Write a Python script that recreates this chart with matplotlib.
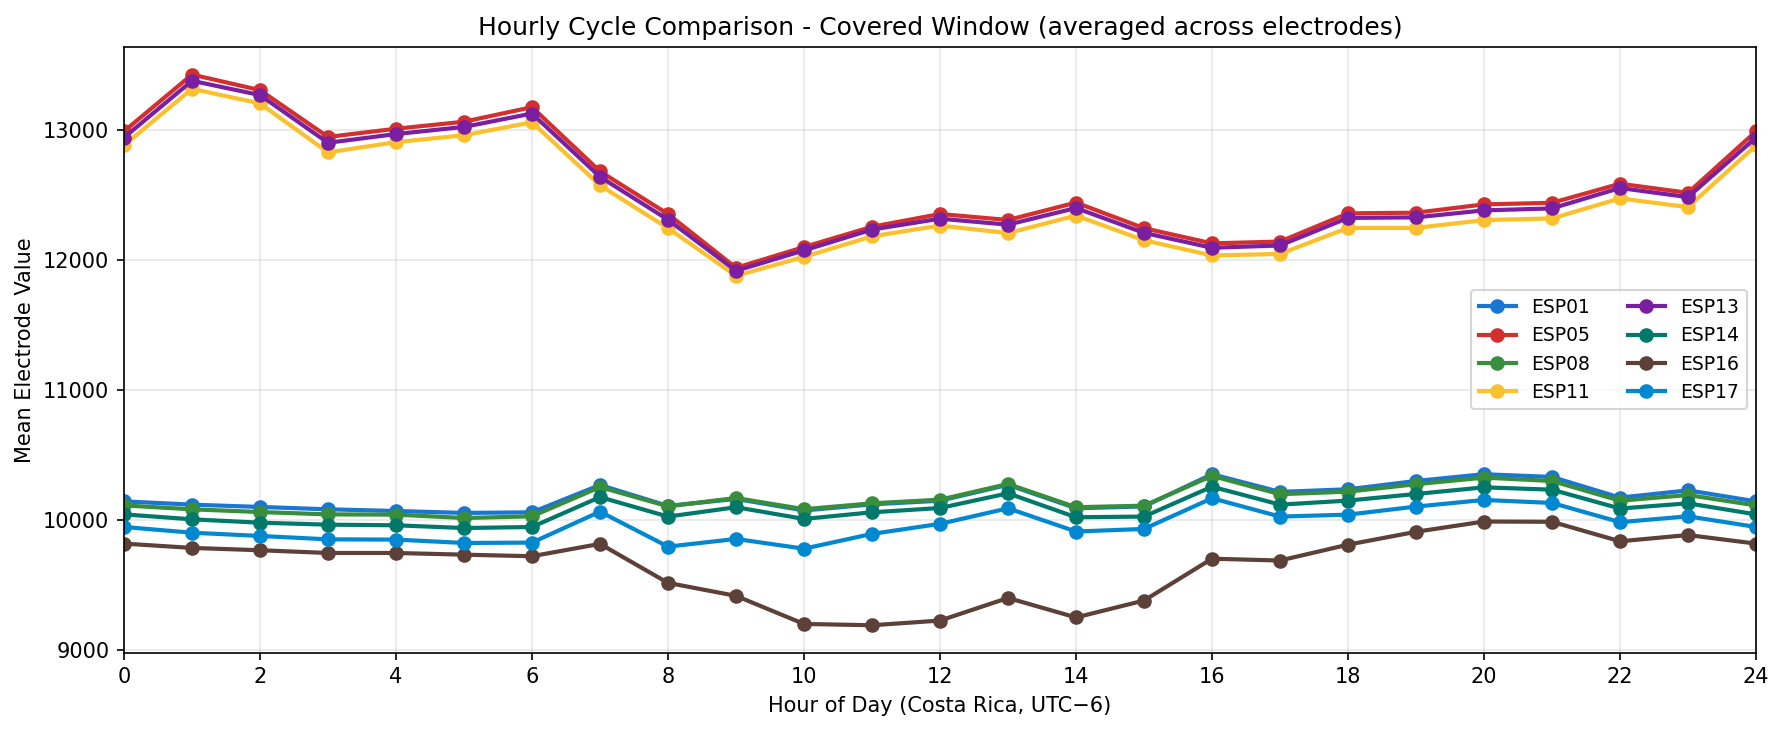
import matplotlib
matplotlib.use('Agg')
import matplotlib.pyplot as plt

hours = list(range(25))

esp01 = [10141, 10116, 10098, 10080, 10067, 10052, 10057, 10267, 10106, 10160, 10071, 10118, 10146,
         10268, 10088, 10102, 10350, 10214, 10234, 10298, 10350, 10329, 10170, 10226, 10141]
esp05 = [12988, 13425, 13305, 12945, 13008, 13062, 13174, 12680, 12352, 11938, 12098, 12254, 12352,
         12306, 12440, 12243, 12126, 12140, 12357, 12362, 12426, 12438, 12585, 12515, 12988]
esp08 = [10110, 10080, 10059, 10041, 10039, 10013, 10026, 10251, 10103, 10167, 10081, 10126, 10154,
         10275, 10096, 10108, 10337, 10196, 10216, 10273, 10324, 10298, 10146, 10190, 10110]
esp11 = [12880, 13315, 13203, 12826, 12905, 12958, 13058, 12572, 12243, 11877, 12022, 12180, 12263,
         12205, 12340, 12150, 12033, 12045, 12245, 12245, 12305, 12318, 12472, 12405, 12880]
esp13 = [12940, 13377, 13267, 12900, 12967, 13022, 13125, 12638, 12308, 11915, 12072, 12232, 12316,
         12270, 12398, 12207, 12092, 12110, 12322, 12326, 12380, 12395, 12552, 12482, 12940]
esp14 = [10041, 10003, 9977, 9962, 9957, 9936, 9944, 10174, 10024, 10096, 10006, 10057, 10090,
         10203, 10019, 10024, 10254, 10116, 10147, 10198, 10249, 10231, 10086, 10126, 10041]
esp16 = [9816, 9783, 9765, 9744, 9744, 9731, 9719, 9814, 9514, 9414, 9198, 9188, 9224,
         9398, 9248, 9378, 9700, 9686, 9808, 9907, 9986, 9984, 9834, 9882, 9816]
esp17 = [9944, 9900, 9875, 9849, 9847, 9821, 9824, 10062, 9793, 9852, 9777, 9891, 9968,
         10088, 9909, 9929, 10165, 10024, 10039, 10101, 10152, 10129, 9981, 10026, 9944]

series = [
    ('ESP01', esp01, '#1976D2'),
    ('ESP05', esp05, '#D32F2F'),
    ('ESP08', esp08, '#388E3C'),
    ('ESP11', esp11, '#FBC02D'),
    ('ESP13', esp13, '#7B1FA2'),
    ('ESP14', esp14, '#00796B'),
    ('ESP16', esp16, '#5D4037'),
    ('ESP17', esp17, '#0288D1'),
]

fig, ax = plt.subplots(figsize=(1784/150, 731/150), dpi=150)
fig.subplots_adjust(left=0.0695, right=0.9843, bottom=0.107, top=0.9357)

for name, vals, color in series:
    ax.plot(hours, vals, marker='o', color=color, linewidth=2, markersize=6, label=name)

ax.set_xlim(0, 24)
ax.set_xticks(range(0, 25, 2))
ax.grid(True, alpha=0.3)
ax.set_title('Hourly Cycle Comparison - Covered Window (averaged across electrodes)', fontsize=12)
ax.set_xlabel('Hour of Day (Costa Rica, UTC\u22126)')
ax.set_ylabel('Mean Electrode Value')
ax.legend(loc='center right', ncol=2, fontsize=9)

fig.savefig('out.png', dpi=150)
